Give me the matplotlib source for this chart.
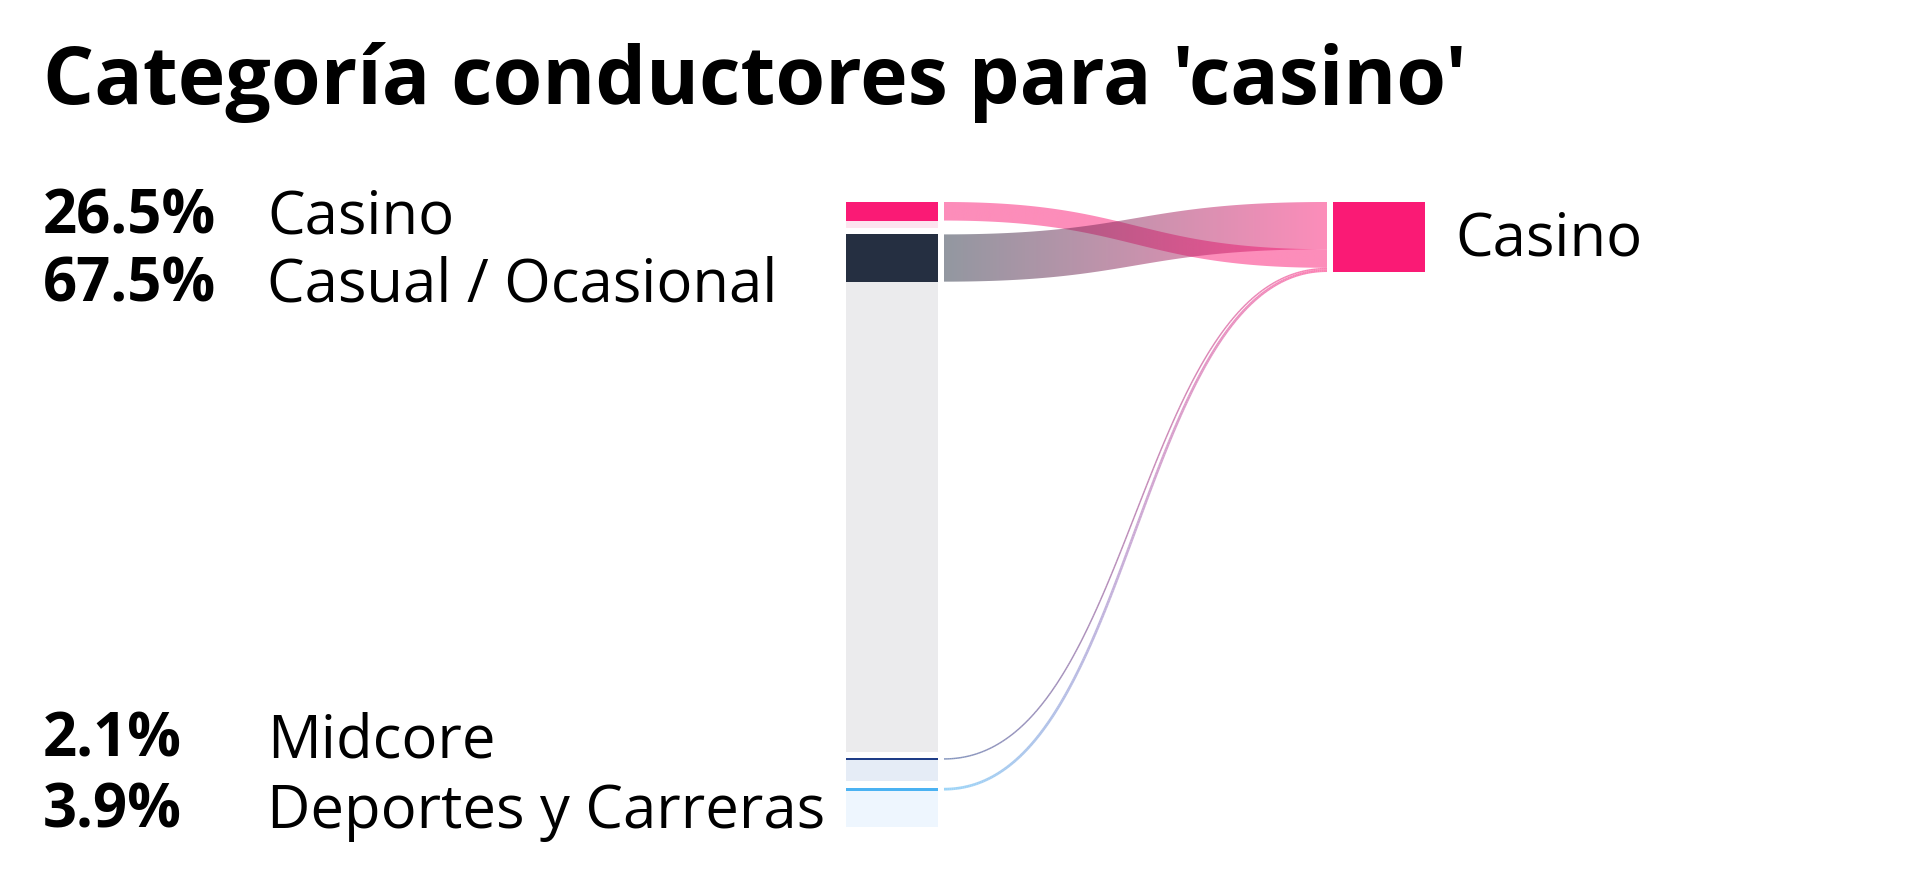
import numpy as np
import matplotlib
matplotlib.use("Agg")
import matplotlib.pyplot as plt
from matplotlib.patches import Polygon, Rectangle
from matplotlib.collections import LineCollection
from matplotlib.colors import to_rgb

# datos: categorias de origen -> 'Casino'
categorias = ["Casino", "Casual / Ocasional", "Midcore", "Deportes y Carreras"]
porcentajes = [26.5, 67.5, 2.1, 3.9]          # % de los conductores de casino
tamano_categoria = [37.0, 739.0, 33.0, 56.0]   # tamano total del nodo izquierdo (misma escala)
colores = ["#FA1A75", "#252F41", "#1E3D87", "#4BB2F2"]
colores_claros = ["#FDE4EF", "#EBEBED", "#E5ECF6", "#EEF6FE"]
orden_destino = [1, 0, 2, 3]                   # orden de llegada al nodo derecho
destino = "Casino"
color_destino = "#FA1A75"
titulo = "Categoría conductores para 'casino'"

plt.rcParams['font.family'] = ['Open Sans', 'DejaVu Sans']

W, H = 1917, 875
fig = plt.figure(figsize=(W / 100, H / 100), dpi=100)
ax = fig.add_axes([0, 0, 1, 1])

escala = 0.7          # px por unidad
hueco = 6.5
x_izq0, x_izq1 = 846, 938
x_der0, x_der1 = 1333, 1425
x_flujo0, x_flujo1 = 944, 1327
y_top = 202

# nodos izquierdos
y_izq = []
y = y_top
for i, cat in enumerate(categorias):
    alto_total = tamano_categoria[i] * escala
    alto_flujo = porcentajes[i] * escala
    ax.add_patch(Rectangle((x_izq0, y), x_izq1 - x_izq0, alto_total,
                           color=colores_claros[i], lw=0))
    ax.add_patch(Rectangle((x_izq0, y), x_izq1 - x_izq0, alto_flujo,
                           color=colores[i], lw=0))
    y_izq.append((y, y + alto_flujo))
    y += alto_total + hueco

# nodo derecho
total = sum(porcentajes)
ax.add_patch(Rectangle((x_der0, y_top), x_der1 - x_der0, total * escala,
                       color=color_destino, lw=0))
y_der = {}
y = y_top
for i in orden_destino:
    y_der[i] = (y, y + porcentajes[i] * escala)
    y += porcentajes[i] * escala


def curva(ya, yb, t):
    return (1 - t) ** 3 * ya + 3 * (1 - t) ** 2 * t * ya + 3 * (1 - t) * t ** 2 * yb + t ** 3 * yb


def gradiente(c0, c1, alpha=0.5, n=256):
    a = np.array(to_rgb(c0))
    b = np.array(to_rgb(c1))
    f = np.linspace(0, 1, n)[:, None]
    rgb = a * (1 - f) + b * f
    rgba = np.concatenate([rgb, np.full((n, 1), alpha)], axis=1)
    return rgba[None, :, :]


t = np.linspace(0, 1, 300)
xm = (x_flujo0 + x_flujo1) / 2
bx = (1 - t) ** 3 * x_flujo0 + 3 * (1 - t) ** 2 * t * xm + 3 * (1 - t) * t ** 2 * xm + t ** 3 * x_flujo1

for i in [0, 1, 2, 3]:
    (a0, b0), (a1, b1) = y_izq[i], y_der[i]
    arriba = curva(a0, a1, t)
    abajo = curva(b0, b1, t)
    grosor = b0 - a0
    if grosor < 5:
        # flujo fino: linea central con gradiente
        centro = (arriba + abajo) / 2
        pts = np.column_stack([bx, centro]).reshape(-1, 1, 2)
        segs = np.concatenate([pts[:-1], pts[1:]], axis=1)
        cols = gradiente(colores[i], color_destino, alpha=0.55, n=len(segs))[0]
        lc = LineCollection(segs, colors=cols, linewidths=max(grosor, 1.3) * 0.72,
                            capstyle='butt')
        ax.add_collection(lc)
    else:
        verts = np.concatenate([np.column_stack([bx, arriba]),
                                np.column_stack([bx[::-1], abajo[::-1]])])
        poly = Polygon(verts, closed=True, transform=ax.transData, fc='none', ec='none')
        ax.add_patch(poly)
        im = ax.imshow(gradiente(colores[i], color_destino), aspect='auto',
                       extent=[x_flujo0, x_flujo1, max(arriba.max(), abajo.max()),
                               min(arriba.min(), abajo.min())],
                       interpolation='bilinear', zorder=2)
        im.set_clip_path(poly)

# etiquetas
y_etiquetas = [218, 286, 741, 812]
for i, cat in enumerate(categorias):
    ax.text(43, y_etiquetas[i], f"{porcentajes[i]}%", fontsize=43, fontweight='bold',
            va='center', ha='left', color='black')
    ax.text(267, y_etiquetas[i], cat, fontsize=43, va='center', ha='left', color='black')

ax.text(1455, y_top + total * escala / 2 + 3, destino, fontsize=43, va='center', ha='left',
        color='black')

fig.text(43 / W, 1 - 104 / H, titulo, fontsize=58, fontweight='bold', va='baseline',
         ha='left', color='black')

ax.set_xlim(0, W)
ax.set_ylim(H, 0)
ax.axis('off')

fig.savefig("out.png", dpi=100, facecolor='white')
